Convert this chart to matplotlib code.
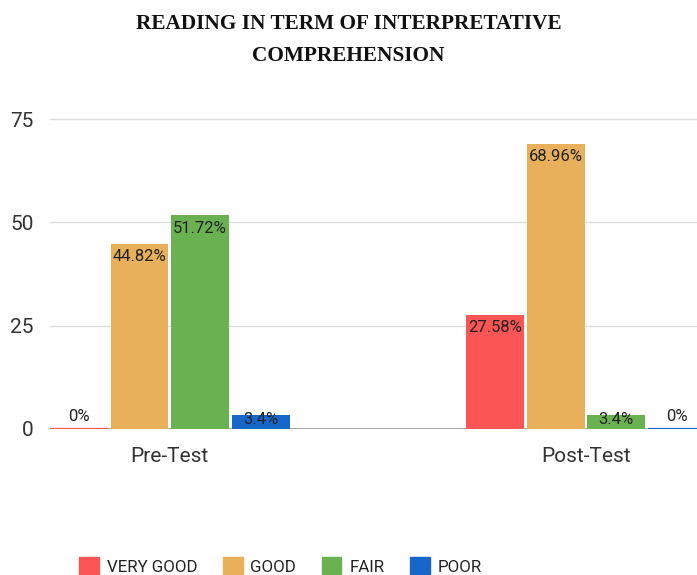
import numpy as np
import matplotlib.pyplot as plt
from matplotlib.patches import Patch

# chart data
tests = ['Pre-Test', 'Post-Test']
levels = ['VERY GOOD', 'GOOD', 'FAIR', 'POOR']
very_good = [0, 27.58]
good = [44.82, 68.96]
fair = [51.72, 3.4]
poor = [3.4, 0]
labels = [['0%', '27.58%'], ['44.82%', '68.96%'], ['51.72%', '3.4%'], ['3.4%', '0%']]

colors = ['#fb5555', '#e8b05b', '#6ab152', '#1767cb']
series = [very_good, good, fair, poor]

plt.rcParams['font.family'] = ['Roboto', 'DejaVu Sans']

fig = plt.figure(figsize=(6.97, 5.75), dpi=100)
ax = fig.add_axes([50 / 697, 146 / 575, 1 - 50 / 697, 0.575])

x = np.arange(len(tests))
width = 0.139
step = 0.1455
ax.axhline(0, color='#999999', linewidth=1.2, zorder=2)
for i, (vals, col) in enumerate(zip(series, colors)):
    pos = x + (i - 1.5) * step
    ax.bar(pos, vals, width, color=col, zorder=3)
    for p, v, lab in zip(pos, vals, labels[i]):
        if v > 10:
            ax.text(p, v - 1.3, lab, ha='center', va='top', fontsize=12, color='#222222', zorder=4)
        elif v > 0:
            ax.text(p, v + 0.6, lab, ha='center', va='top', fontsize=12, color='#222222', zorder=4)
        else:
            # zero bars show as a coloured line on the baseline
            ax.hlines(0, p - width / 2, p + width / 2, color=col, linewidth=1.6, zorder=3)
            ax.text(p, 1.3, lab, ha='center', va='bottom', fontsize=12, color='#222222', zorder=4)

ax.set_xlim(-0.288, 1.267)
ax.set_ylim(0, 80)
ax.set_yticks([0, 25, 50, 75])
ax.set_xticks(x)
ax.set_xticklabels(tests, fontsize=15, color='#333333')
ax.tick_params(axis='y', length=0, pad=12, labelsize=15, labelcolor='#333333')
ax.tick_params(axis='x', length=0, pad=13)
ax.grid(axis='y', color='#dddddd', linewidth=1, zorder=0)
for s in ax.spines.values():
    s.set_visible(False)

fig.text(0.5, 1 - 40 / 575, 'READING IN TERM OF INTERPRETATIVE\nCOMPREHENSION', ha='center', va='center',
         fontsize=15.3, fontweight='bold', family='Liberation Serif', linespacing=1.75, color='#111111')

handles = [Patch(color=c) for c in colors]
fig.legend(handles, levels, loc='center left', bbox_to_anchor=(64 / 697, 9 / 575), ncol=4, frameon=False,
           fontsize=12.2, handlelength=1.17, handleheight=1.17, handletextpad=0.46, columnspacing=1.5,
           labelcolor='#222222')

fig.savefig('out.png', dpi=100)
